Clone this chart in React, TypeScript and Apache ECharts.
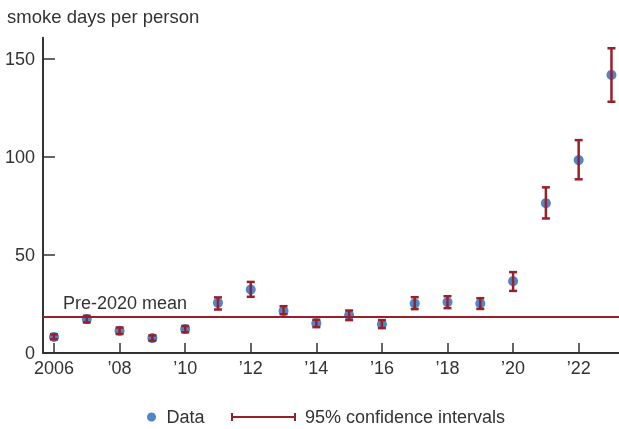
import React, { useEffect, useRef } from "react";
import * as echarts from "echarts";

const years = [2006, 2007, 2008, 2009, 2010, 2011, 2012, 2013, 2014, 2015, 2016, 2017, 2018, 2019, 2020, 2021, 2022, 2023];
const values = [8.2, 17.3, 11.3, 7.6, 12.2, 25.6, 32.4, 21.5, 15.2, 19.3, 14.7, 25.3, 26.0, 25.3, 36.7, 76.5, 98.5, 142.0];
const ciLow = [7.0, 15.6, 9.7, 6.3, 10.6, 22.2, 28.7, 19.8, 13.2, 16.8, 12.7, 22.4, 22.9, 22.5, 31.7, 68.7, 88.7, 128.3];
const ciHigh = [9.5, 19.0, 13.0, 9.0, 13.8, 28.4, 36.3, 23.9, 17.0, 21.7, 16.8, 28.5, 29.0, 28.0, 41.3, 84.6, 108.7, 155.6];
const pre2020Mean = 18.6;
const xTickYears = [2006, 2008, 2010, 2012, 2014, 2016, 2018, 2020, 2022];
const yTicks = [0, 50, 100, 150];

const BLUE = "#4d86c9";
const RED = "#99202a";
const TEXT = "#333333";
const AXIS = "#333333";
const FONT = "'Liberation Sans', Arial, sans-serif";

export default function App() {
  const ref = useRef<HTMLDivElement>(null);
  useEffect(() => {
    if (!ref.current) return;
    const chart = echarts.init(ref.current, null, { renderer: "svg" });
    const scatterData = years.map((y, i) => [y, values[i]]);
    const ciData = years.map((y, i) => [y, ciLow[i], ciHigh[i]]);
    chart.setOption({
      animation: false,
      textStyle: { fontFamily: FONT },
      title: {
        text: "smoke days per person",
        left: 2,
        top: 2,
        textStyle: { fontSize: 18.5, fontWeight: "normal", color: TEXT, fontFamily: FONT },
      },
      grid: { left: 43, right: 0, top: 37.7, bottom: 76, containLabel: false },
      legend: [
        {
          data: [{ name: "Data", icon: "circle", itemStyle: { color: BLUE } }],
          left: 142,
          top: 403,
          itemWidth: 20,
          itemHeight: 9,
          textStyle: { fontSize: 18, color: TEXT, fontFamily: FONT },
        },
        {
          data: [
            {
              name: "95% confidence intervals",
              icon: "path://M0,0L2,0L2,3L63,3L63,0L65,0L65,8L63,8L63,5L2,5L2,8L0,8Z",
              itemStyle: { color: RED },
            },
          ],
          left: 226,
          top: 403,
          itemWidth: 65,
          itemHeight: 8,
          textStyle: { fontSize: 18, color: TEXT, fontFamily: FONT, padding: [0, 0, 0, 4] },
        },
      ],
      xAxis: {
        type: "value",
        min: 2005.665,
        max: 2023.23,
        splitLine: { show: false },
        axisLine: { show: true, lineStyle: { color: AXIS, width: 2 } },
        axisTick: { show: true, inside: true, length: 10, customValues: xTickYears, lineStyle: { color: AXIS, width: 1.5 } },
        axisLabel: {
          customValues: xTickYears,
          color: TEXT,
          fontSize: 18,
          fontFamily: FONT,
          margin: 6,
          formatter: (v: number) => (v === 2006 ? "2006" : "\u2019" + String(v).slice(2)),
        },
      },
      yAxis: {
        type: "value",
        min: 0,
        max: 161,
        splitLine: { show: false },
        axisLine: { show: true, lineStyle: { color: AXIS, width: 2 } },
        axisTick: { show: true, inside: true, length: 12, customValues: yTicks, lineStyle: { color: AXIS, width: 1.5 } },
        axisLabel: { customValues: yTicks, color: TEXT, fontSize: 18, fontFamily: FONT, margin: 8 },
      },
      series: [
        {
          name: "Data",
          type: "scatter",
          data: scatterData,
          symbolSize: 10,
          itemStyle: { color: BLUE, opacity: 1 },
          markLine: {
            silent: true,
            symbol: ["none", "none"],
            lineStyle: { color: RED, width: 2, type: "solid", opacity: 1 },
            label: {
              show: true,
              position: "insideStartTop",
              distance: [20, 5],
              formatter: "Pre-2020 mean",
              color: TEXT,
              fontSize: 18,
              fontFamily: FONT,
            },
            data: [{ yAxis: pre2020Mean }],
          },
        },
        {
          name: "95% confidence intervals",
          type: "custom",
          data: ciData,
          encode: { x: 0, y: [1, 2] },
          itemStyle: { color: RED },
          renderItem: (params: any, api: any) => {
            const x = api.value(0);
            const top = api.coord([x, api.value(2)]);
            const bot = api.coord([x, api.value(1)]);
            const hw = 4;
            const style = { stroke: RED, lineWidth: 2.5, fill: "none" };
            return {
              type: "group",
              children: [
                { type: "line", shape: { x1: top[0], y1: top[1], x2: bot[0], y2: bot[1] }, style },
                { type: "line", shape: { x1: top[0] - hw, y1: top[1], x2: top[0] + hw, y2: top[1] }, style },
                { type: "line", shape: { x1: bot[0] - hw, y1: bot[1], x2: bot[0] + hw, y2: bot[1] }, style },
              ],
            };
          },
          z: 3,
        },
      ],
    });
    return () => chart.dispose();
  }, []);
  return <div ref={ref} style={{ position: "fixed", left: 0, top: 0, width: 619, height: 429 }} />;
}
